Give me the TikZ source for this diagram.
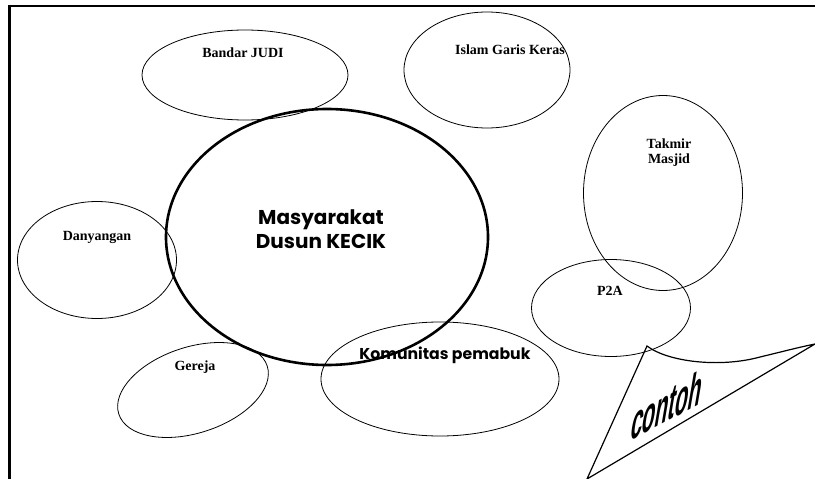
\documentclass[tikz,border=0pt]{standalone}
\usepackage{fontspec}
\setmainfont{Liberation Serif}
\newfontfamily\gothic{Poppins}
\newfontfamily\arialish{Liberation Sans}
\usetikzlibrary{shapes.geometric}

\tikzset{
  oval/.style={ellipse, draw, line width=0.8pt, inner sep=0pt},
  bigoval/.style={ellipse, draw, line width=2.6pt, inner sep=0pt},
  lbl/.style={font=\fontsize{14}{15}\selectfont\bfseries, align=center, inner sep=0pt},
  gothiclbl/.style={font=\gothic\bfseries, align=center, inner sep=0pt},
}

\begin{document}
\begin{tikzpicture}[x=1pt, y=-1pt]
  \useasboundingbox (0,0) rectangle (815,479);

  % frame: only the left and top sides
  \coordinate (fbl) at (9.5,479);
  \coordinate (ftl) at (9.5,6);
  \coordinate (ftr) at (815,6);
  \draw[line width=2.2pt] (fbl) -- (ftl) -- (ftr);

  % surrounding groups
  \node[oval, minimum width=206pt, minimum height=90pt] (bandar) at (245,75) {};
  \node[lbl] (bandart) at (243,53) {Bandar JUDI};

  \node[oval, minimum width=166pt, minimum height=116pt] (islam) at (487,70) {};
  \node[lbl] (islamt) at (510,50) {Islam Garis Keras};

  \node[oval, minimum width=159pt, minimum height=195pt] (takmir) at (663,193) {};
  \node[lbl] (takmirt) at (669,153) {Takmir\\Masjid};

  \node[oval, minimum width=159pt, minimum height=117pt] (danyang) at (97,260) {};
  \node[lbl] (danyangt) at (97,237) {Danyangan};

  \node[oval, minimum width=159pt, minimum height=97pt] (p2a) at (611,308) {};
  \node[lbl] (p2at) at (610,291) {P2A};

  \node[oval, rotate=18, minimum width=156pt, minimum height=86pt] (gereja) at (193,390) {};
  \node[lbl] (gerejat) at (195,367) {Gereja};

  \node[oval, minimum width=238pt, minimum height=114pt] (pemabuk) at (440,379) {};

  % central community
  \node[bigoval, minimum width=322pt, minimum height=256pt] (dusun) at (327,237) {};
  \node[gothiclbl, font=\gothic\bfseries\fontsize{20}{24}\selectfont] (dusunt) at (321,229)
    {Masyarakat\\Dusun KECIK};
  \node[gothiclbl, font=\gothic\bfseries\fontsize{15.7}{17}\selectfont] (pemabukt) at (445,355)
    {Komunitas pemabuk};

  % pennant in the lower right corner
  \coordinate (pbot) at (587,479);
  \coordinate (papex) at (647,346);
  \coordinate (pright) at (815,344);
  \draw[line width=1.2pt, line join=miter]
    (pbot) -- (papex)
    .. controls (668,362) and (720,368) .. (760,357)
    .. controls (785,351) and (800,347) .. (pright)
    -- cycle;
  \node[inner sep=0pt, anchor=base west, transform shape,
        cm={0.46,0.245,0.19,1.12,(0,0)},
        font=\arialish\bfseries\fontsize{46}{46}\selectfont] (contoh) at (629,442) {contoh};
\end{tikzpicture}
\end{document}
